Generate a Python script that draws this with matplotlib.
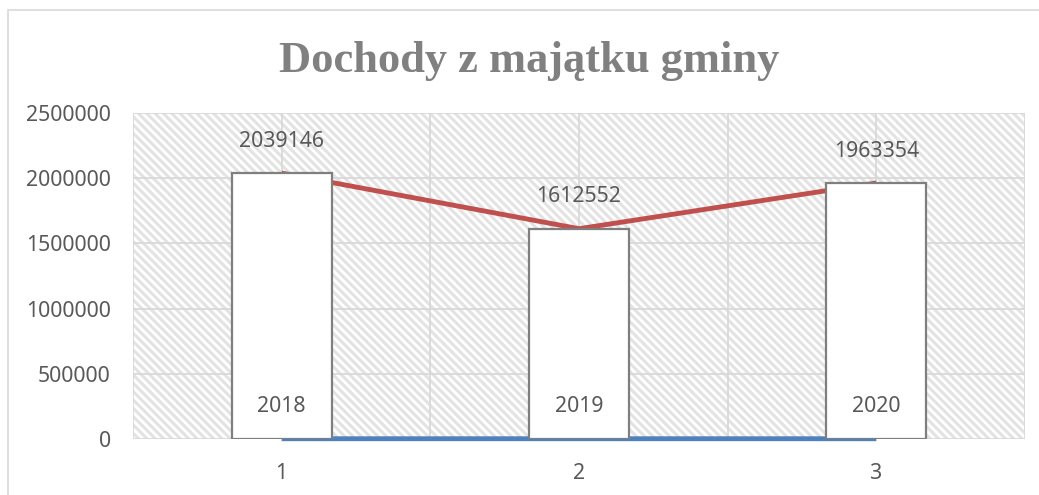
import matplotlib
matplotlib.use("Agg")
import matplotlib.pyplot as plt
from matplotlib.patches import Rectangle

# Data
categories = [1, 2, 3]
tick_labels = ["1", "2", "3"]
dochody = [2039146, 1612552, 1963354]
lata = [2018, 2019, 2020]
title = "Dochody z majątku gminy"
yticks = [0, 500000, 1000000, 1500000, 2000000, 2500000]

plt.rcParams['hatch.linewidth'] = 2.2
text_col = '#595959'
grid_col = '#d9d9d9'
fs = 15.3

fig = plt.figure(figsize=(10.39, 4.95), dpi=100)
# outer chart border (left and top only visible)
fig.patches.append(Rectangle((8/1039, -0.1), 1.2, 1 - 10/495 + 0.1, transform=fig.transFigure,
                             facecolor='none', edgecolor='#d9d9d9', lw=1.2))

ax = fig.add_axes([133/1039, 1 - 439/495, (1025-133)/1039, (439-113)/495])
ax.set_xlim(0.5, 3.5)
ax.set_ylim(0, 2500000)

# hatched plot-area background
ax.add_patch(Rectangle((0, 0), 1, 1, transform=ax.transAxes, facecolor='white',
                       edgecolor='#e3e3e3', hatch='\\\\\\\\', lw=0, zorder=0))

ax.set_axisbelow(True)
ax.set_yticks(yticks)
ax.set_yticklabels([str(v) for v in yticks])
ax.set_xticks([0.5, 1, 1.5, 2, 2.5, 3, 3.5], minor=False)
ax.set_xticklabels(["", tick_labels[0], "", tick_labels[1], "", tick_labels[2], ""])
ax.grid(True, color=grid_col, lw=1.3)
for s in ax.spines.values():
    s.set_visible(False)
ax.tick_params(length=0, labelsize=fs, labelcolor=text_col, pad=0)
ax.tick_params(axis='y', pad=16)
ax.tick_params(axis='x', pad=17)
for lab in ax.get_xticklabels() + ax.get_yticklabels():
    lab.set_fontfamily('Noto Sans')

ax.plot(categories, dochody, color='#C0504D', lw=3.5, zorder=2, solid_capstyle='butt')
ax.plot(categories, lata, color='#4F81BD', lw=3.5, zorder=2, solid_capstyle='butt', clip_on=False)
ax.bar(categories, dochody, width=0.336, color='white', edgecolor='#7f7f7f', lw=1.6, zorder=3)

for x, v in zip(categories, dochody):
    ax.annotate(str(v), (x, v), xytext=(0, 23), textcoords='offset points', ha='center', va='center',
                fontsize=fs, color=text_col, family='Noto Sans', zorder=5)
for x, v in zip(categories, lata):
    ax.annotate(str(v), (x, v), xytext=(0, 23), textcoords='offset points', ha='center', va='center',
                fontsize=fs, color=text_col, family='Noto Sans', zorder=5)

fig.text(529/1039, 1 - 72/495, title, ha='center', va='baseline', fontsize=32,
         fontweight='bold', color='#808080', family='Liberation Serif')

fig.savefig('out.png', dpi=100)
